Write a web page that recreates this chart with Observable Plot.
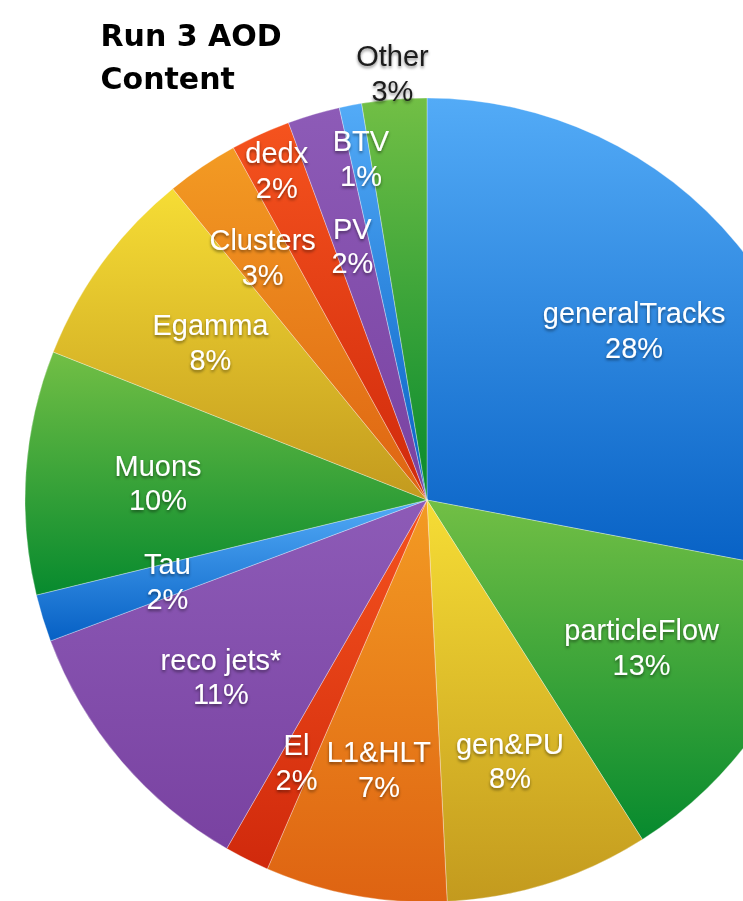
<!DOCTYPE html>
<html>
<head>
<meta charset="utf-8">
<script src="https://cdn.jsdelivr.net/npm/d3@7"></script>
<script src="https://cdn.jsdelivr.net/npm/@observablehq/plot@0.6"></script>
<style>
  html, body { margin: 0; padding: 0; background: #ffffff; }
  #chart { position: relative; width: 743px; height: 901px; overflow: hidden; }
  #chart svg { display: block; }
</style>
</head>
<body>
<div id="chart"></div>
<script>
// ---- data ----
const categories = ["generalTracks", "particleFlow", "gen&PU", "L1&HLT", "El", "reco jets*", "Tau",
                    "Muons", "Egamma", "Clusters", "dedx", "PV", "BTV", "Other"];
const shares = [28.0, 13.0, 8.2, 7.3, 1.8, 11.0, 1.9, 9.8, 8.1, 2.9, 2.4, 2.1, 0.9, 2.6];
const titleLines = ["Run 3 AOD", "Content"];

// ---- styling / layout ----
const colorCycle = ["blue", "green", "yellow", "orange", "red", "purple"];
const gradientStops = {
  blue:   ["#53abf7", "#0660c4"],
  green:  ["#72bf45", "#078a2e"],
  yellow: ["#f6dd35", "#c39a1e"],
  orange: ["#f39b23", "#de6312"],
  red:    ["#f5531e", "#d0290c"],
  purple: ["#8d5bb7", "#7942a1"]
};
// label distance from centre, as a fraction of the radius
const labelRadius = [0.667, 0.644, 0.677, 0.678, 0.727, 0.674, 0.677, 0.672, 0.669, 0.733, 0.905, 0.663, 0.869, 1.069];
const outsideLabel = ["Other"];

const W = 743, H = 901;
const cx = 427, cy = 500, R = 402;

// ---- derived geometry ----
const total = d3.sum(shares);
let acc = 0;
const slices = categories.map((name, i) => {
  const a0 = acc / total;
  acc += shares[i];
  return {name, i, a0, a1: acc / total, share: shares[i], family: colorCycle[i % colorCycle.length]};
});

const labelRows = slices.map(s => {
  const t = 2 * Math.PI * (s.a0 + s.a1) / 2;
  const r = labelRadius[s.i];
  return {
    name: s.name,
    pct: Math.round(s.share),
    x: r * Math.sin(t),
    y: r * Math.cos(t),
    outside: outsideLabel.includes(s.name)
  };
});

// pie wedges drawn through the plot's x/y scales (unit circle in data space)
function renderPie(index, scales, values, dimensions, context) {
  const x0 = scales.x(0), y0 = scales.y(0);
  const r = scales.x(1) - scales.x(0);
  const arc = d3.arc().innerRadius(0).outerRadius(r);
  const g = d3.create("svg:g").attr("class", "pie-slices").attr("transform", `translate(${x0},${y0})`);
  for (const i of index) {
    const s = slices[i];
    g.append("path")
      .attr("d", arc({startAngle: 2 * Math.PI * s.a0, endAngle: 2 * Math.PI * s.a1}))
      .attr("fill", `url(#grad-${s.i})`)
      .attr("stroke", "#ffffff")
      .attr("stroke-opacity", 0.45)
      .attr("stroke-width", 0.7)
      .attr("stroke-linejoin", "round");
  }
  return g.node();
}

function withFilter(id) {
  return (index, scales, values, dimensions, context, next) => {
    const node = next(index, scales, values, dimensions, context);
    node.setAttribute("filter", `url(#${id})`);
    return node;
  };
}

const plot = Plot.plot({
  width: W,
  height: H,
  margin: 0,
  x: {domain: [-cx / R, (W - cx) / R], axis: null},
  y: {domain: [(cy - H) / R, cy / R], axis: null},
  style: {background: "transparent"},
  marks: [
    Plot.dot(slices, {x: () => 0, y: () => 0, r: 0, render: renderPie}),
    Plot.text(labelRows, {
      x: "x", y: "y",
      text: d => `${d.name}\n${d.pct}%`,
      fill: {value: d => d.outside ? "#1c1c1c" : "#ffffff", scale: null},
      fontSize: 29,
      lineHeight: 1.2,
      fontFamily: "Liberation Sans, Arial, sans-serif",
      render: withFilter("tshadow")
    }),
    Plot.text([titleLines.join("\n")], {
      frameAnchor: "top-left",
      dx: 100, dy: 15,
      lineAnchor: "top",
      textAnchor: "start",
      fontSize: 30,
      fontWeight: "bold",
      lineHeight: 1.43,
      fontFamily: "DejaVu Sans, sans-serif",
      fill: "#000000"
    })
  ]
});

// gradient + shadow definitions
const svg = d3.select(plot);
const defs = svg.insert("defs", ":first-child");
slices.forEach(s => {
  const [c0, c1] = gradientStops[s.family];
  const g = defs.append("linearGradient")
    .attr("id", `grad-${s.i}`)
    .attr("x1", 0).attr("y1", 0).attr("x2", 0).attr("y2", 1);
  g.append("stop").attr("offset", "0%").attr("stop-color", c0);
  g.append("stop").attr("offset", "100%").attr("stop-color", c1);
});
const ts = defs.append("filter").attr("id", "tshadow")
  .attr("x", "-20%").attr("y", "-20%").attr("width", "140%").attr("height", "140%");
ts.append("feDropShadow").attr("dx", 0).attr("dy", 2).attr("stdDeviation", 1.4)
  .attr("flood-color", "#000").attr("flood-opacity", 0.45);

document.getElementById("chart").appendChild(plot);
</script>
</body>
</html>
